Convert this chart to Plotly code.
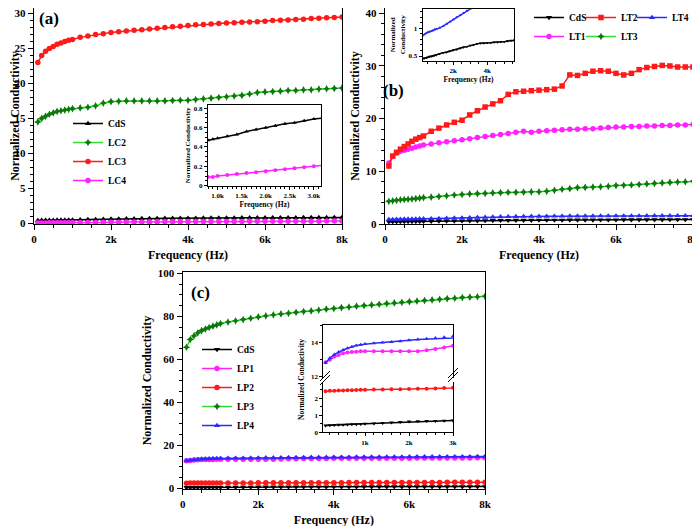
import plotly.graph_objects as go

# ---------------- data ----------------
freq = [100, 200, 300, 400, 500, 600, 700, 800, 900, 1000,
        1200, 1400, 1600, 1800, 2000, 2200, 2400, 2600, 2800, 3000,
        3200, 3400, 3600, 3800, 4000, 4200, 4400, 4600, 4800, 5000,
        5200, 5400, 5600, 5800, 6000, 6200, 6400, 6600, 6800, 7000,
        7200, 7400, 7600, 7800, 8000]

# panel (a)
a_cds = [0.40, 0.42, 0.43, 0.44, 0.45, 0.46, 0.46, 0.47, 0.48, 0.49,
         0.51, 0.53, 0.56, 0.58, 0.60, 0.62, 0.64, 0.65, 0.67, 0.69,
         0.70, 0.71, 0.72, 0.73, 0.74, 0.74, 0.75, 0.76, 0.76, 0.77,
         0.77, 0.78, 0.78, 0.79, 0.79, 0.80, 0.80, 0.81, 0.81, 0.82,
         0.82, 0.83, 0.83, 0.84, 0.84]
a_lc2 = [14.5, 15.0, 15.3, 15.6, 15.8, 16.0, 16.1, 16.2, 16.3, 16.4,
         16.5, 16.6, 16.8, 17.2, 17.4, 17.45, 17.5, 17.5, 17.5, 17.5,
         17.5, 17.5, 17.55, 17.6, 17.6, 17.7, 17.8, 17.9, 18.0, 18.1,
         18.2, 18.3, 18.5, 18.7, 18.8, 18.85, 18.9, 19.0, 19.0, 19.1,
         19.1, 19.2, 19.25, 19.3, 19.35]
a_lc3 = [23.0, 24.0, 24.6, 25.0, 25.3, 25.6, 25.8, 26.0, 26.2, 26.3,
         26.6, 26.8, 27.0, 27.1, 27.3, 27.4, 27.5, 27.6, 27.7, 27.8,
         27.9, 28.0, 28.1, 28.2, 28.3, 28.4, 28.45, 28.5, 28.6, 28.65,
         28.7, 28.75, 28.8, 28.85, 28.9, 29.0, 29.05, 29.1, 29.15, 29.2,
         29.3, 29.35, 29.4, 29.45, 29.5]
a_lc4 = [0.05, 0.06, 0.06, 0.07, 0.07, 0.08, 0.08, 0.09, 0.09, 0.10,
         0.11, 0.12, 0.13, 0.14, 0.15, 0.16, 0.17, 0.18, 0.19, 0.20,
         0.21, 0.22, 0.22, 0.23, 0.24, 0.24, 0.25, 0.25, 0.26, 0.26,
         0.27, 0.27, 0.28, 0.28, 0.29, 0.29, 0.30, 0.30, 0.30, 0.31,
         0.31, 0.31, 0.32, 0.32, 0.32]

# panel (b)
b_cds = [0.44, 0.45, 0.46, 0.47, 0.48, 0.49, 0.49, 0.50, 0.51, 0.52,
         0.54, 0.56, 0.57, 0.59, 0.61, 0.62, 0.64, 0.66, 0.67, 0.69,
         0.70, 0.72, 0.73, 0.73, 0.74, 0.74, 0.75, 0.75, 0.76, 0.76,
         0.77, 0.78, 0.79, 0.80, 0.80, 0.81, 0.81, 0.82, 0.82, 0.83,
         0.83, 0.84, 0.84, 0.85, 0.85]
b_lt1 = [11.6, 12.8, 13.5, 13.8, 14.0, 14.2, 14.4, 14.6, 14.8, 15.0,
         15.2, 15.4, 15.6, 15.8, 16.0, 16.2, 16.4, 16.6, 16.8, 17.0,
         17.2, 17.4, 17.6, 17.4, 17.6, 17.7, 17.8, 17.9, 18.0, 18.0,
         18.1, 18.1, 18.2, 18.3, 18.4, 18.4, 18.5, 18.5, 18.6, 18.6,
         18.7, 18.7, 18.8, 18.8, 18.9]
b_lt2 = [11.0, 12.9, 13.6, 14.2, 14.7, 15.2, 15.7, 16.1, 16.4, 16.7,
         17.6, 18.2, 18.8, 19.3, 19.7, 20.7, 21.5, 22.2, 22.8, 23.4,
         24.6, 25.1, 25.2, 25.3, 25.4, 25.5, 25.6, 26.2, 28.3, 28.2,
         28.6, 29.0, 29.1, 29.0, 28.6, 28.3, 28.6, 29.3, 29.7, 29.9,
         30.1, 30.0, 29.8, 29.8, 29.8]
b_lt3 = [4.3, 4.4, 4.5, 4.6, 4.65, 4.7, 4.75, 4.8, 4.9, 5.0,
         5.1, 5.2, 5.35, 5.5, 5.6, 5.7, 5.75, 5.8, 5.9, 5.95,
         6.0, 6.0, 6.05, 6.1, 6.1, 6.2, 6.4, 6.6, 6.7, 6.9,
         6.95, 7.0, 7.05, 7.15, 7.3, 7.35, 7.4, 7.5, 7.6, 7.7,
         7.8, 7.9, 7.95, 8.0, 8.1]
b_lt4 = [0.86, 0.87, 0.89, 0.91, 0.93, 0.94, 0.95, 0.96, 0.98, 0.99,
         1.01, 1.04, 1.08, 1.12, 1.16, 1.20, 1.24, 1.28, 1.32, 1.36,
         1.39, 1.42, 1.44, 1.45, 1.46, 1.47, 1.48, 1.49, 1.50, 1.50,
         1.51, 1.51, 1.52, 1.52, 1.53, 1.53, 1.54, 1.54, 1.55, 1.55,
         1.56, 1.56, 1.57, 1.57, 1.58]

# panel (c)
c_cds = [0.40, 0.42, 0.43, 0.44, 0.45, 0.46, 0.47, 0.48, 0.49, 0.50,
         0.52, 0.54, 0.57, 0.60, 0.63, 0.65, 0.66, 0.67, 0.68, 0.70,
         0.71, 0.71, 0.72, 0.72, 0.73, 0.73, 0.74, 0.74, 0.75, 0.75,
         0.76, 0.76, 0.77, 0.77, 0.78, 0.78, 0.78, 0.79, 0.79, 0.80,
         0.80, 0.80, 0.81, 0.81, 0.82]
c_lp1 = [12.85, 13.0, 13.18, 13.28, 13.37, 13.42, 13.45, 13.47, 13.49, 13.5,
         13.5, 13.5, 13.5, 13.5, 13.5, 13.5, 13.55, 13.62, 13.72, 13.82,
         13.85, 13.88, 13.9, 13.92, 13.94, 13.95, 13.96, 13.97, 13.98, 13.99,
         14.0, 14.01, 14.02, 14.03, 14.05, 14.06, 14.07, 14.08, 14.09, 14.1,
         14.12, 14.14, 14.16, 14.18, 14.2]
c_lp2 = [2.42, 2.44, 2.45, 2.46, 2.46, 2.47, 2.48, 2.49, 2.50, 2.51,
         2.52, 2.52, 2.53, 2.54, 2.55, 2.56, 2.57, 2.58, 2.60, 2.62,
         2.62, 2.63, 2.64, 2.65, 2.65, 2.66, 2.67, 2.68, 2.68, 2.69,
         2.70, 2.71, 2.71, 2.72, 2.73, 2.74, 2.75, 2.76, 2.78, 2.80,
         2.82, 2.83, 2.84, 2.85, 2.86]
c_lp3 = [65.6, 69.2, 70.9, 72.3, 73.3, 74.1, 74.8, 75.4, 76.0, 76.6,
         77.3, 77.9, 78.5, 79.1, 79.7, 80.2, 80.7, 81.1, 81.4, 81.8,
         82.2, 82.5, 82.9, 83.3, 83.6, 84.0, 84.3, 84.7, 85.0, 85.3,
         85.6, 85.9, 86.2, 86.5, 86.8, 87.1, 87.3, 87.6, 87.9, 88.2,
         88.4, 88.7, 88.9, 89.1, 89.3]
c_lp4 = [12.8, 13.1, 13.3, 13.45, 13.57, 13.67, 13.76, 13.83, 13.88, 13.92,
         13.97, 14.01, 14.04, 14.08, 14.14, 14.18, 14.23, 14.27, 14.32, 14.38,
         14.40, 14.42, 14.44, 14.46, 14.48, 14.50, 14.52, 14.53, 14.55, 14.56,
         14.58, 14.59, 14.61, 14.62, 14.64, 14.65, 14.66, 14.68, 14.69, 14.70,
         14.72, 14.73, 14.74, 14.76, 14.77]

# tick labels
main_xtickvals = [0, 2000, 4000, 6000, 8000]
main_xticktext = ["0", "2k", "4k", "6k", "8k"]
ins_a_xtickvals = [1000, 1500, 2000, 2500, 3000]
ins_a_xticktext = ["1.0k", "1.5k", "2.0k", "2.5k", "3.0k"]
ins_b_xtickvals = [2000, 4000]
ins_b_xticktext = ["2k", "4k"]
ins_c_xtickvals = [1000, 2000, 3000]
ins_c_xticktext = ["1k", "2k", "3k"]

# ---------------- styling ----------------
FONT = "Liberation Serif"
BLACK = "#000000"
RED = "#ff1a1a"
GREEN_L = "#33dd33"
GREEN_M = "#0a7a0a"
MAG = "#ff22ff"
BLUE = "#2a2aff"

W, H = 700, 526
OFF = 8  # page body margin offset of the figure in the browser window


def px_x(p):
    return max(0.0, min(1.0, (p - OFF) / W))


def px_y(p):
    return 1 - (p - OFF) / H


def dom_y(p):
    return max(0.0, min(1.0, px_y(p)))


def tfont(size):
    return dict(family=FONT, size=size, color="black", weight="bold")


def axis(domain, rng, size, dtick=None, minor=None, tickvals=None, ticktext=None,
         title=None, tsize=12, standoff=4, mirror=True, anchor=None, lw=1.4, ticklen=5):
    d = dict(domain=domain, range=rng, showline=True, linecolor="black", linewidth=lw,
             mirror=mirror, ticks="outside", ticklen=ticklen, tickwidth=1.2, tickcolor="black",
             showgrid=False, zeroline=False, tickfont=tfont(size), automargin=False,
             ticklabeloverflow="allow")
    if dtick is not None:
        d["dtick"] = dtick
    if tickvals is not None:
        d["tickmode"] = "array"
        d["tickvals"] = tickvals
        d["ticktext"] = ticktext
    if minor is not None:
        d["minor"] = dict(ticks="outside", ticklen=max(2, ticklen - 2), tickwidth=1,
                          tickcolor="black", dtick=minor, showgrid=False)
    if title:
        d["title"] = dict(text=title, font=tfont(tsize), standoff=standoff)
    if anchor:
        d["anchor"] = anchor
    return d


fig = go.Figure()


def add(x, y, name, color, lcolor, symbol, xa, ya, legend=None, size=5.5, show=True):
    tr = go.Scatter(x=x, y=y, name=name, mode="lines+markers", xaxis=xa, yaxis=ya,
                    line=dict(color=lcolor, width=1.5),
                    marker=dict(symbol=symbol, size=size, color=color, line=dict(width=0)),
                    showlegend=show)
    if legend:
        tr.legend = legend
    fig.add_trace(tr)


# panel (a)
add(freq, a_cds, "CdS", BLACK, BLACK, "triangle-up", "x", "y", "legend")
add(freq, a_lc2, "LC2", GREEN_M, GREEN_L, "star-diamond", "x", "y", "legend")
add(freq, a_lc3, "LC3", RED, RED, "circle", "x", "y", "legend")
add(freq, a_lc4, "LC4", MAG, MAG, "circle", "x", "y", "legend")
# inset (a)
add(freq, a_cds, "CdS", BLACK, BLACK, "triangle-up", "x2", "y2", show=False, size=4)
add(freq, a_lc4, "LC4", MAG, MAG, "circle", "x2", "y2", show=False, size=4)

# panel (b): legend laid out in three columns (legend2, legend4, legend5)
add(freq, b_cds, "CdS", BLACK, BLACK, "triangle-down", "x3", "y3", "legend2")
add(freq, b_lt1, "LT1", MAG, MAG, "circle", "x3", "y3", "legend2")
add(freq, b_lt2, "LT2", RED, RED, "square", "x3", "y3", "legend4")
add(freq, b_lt3, "LT3", GREEN_M, GREEN_L, "star-diamond", "x3", "y3", "legend4")
add(freq, b_lt4, "LT4", BLUE, BLUE, "triangle-up", "x3", "y3", "legend5")
# inset (b)
add(freq, b_cds, "CdS", BLACK, BLACK, "triangle-down", "x4", "y4", show=False, size=3)
add(freq, b_lt4, "LT4", BLUE, BLUE, "triangle-up", "x4", "y4", show=False, size=3)

# panel (c)
add(freq, c_cds, "CdS", BLACK, BLACK, "triangle-down", "x5", "y5", "legend3")
add(freq, c_lp1, "LP1", MAG, MAG, "circle", "x5", "y5", "legend3")
add(freq, c_lp2, "LP2", RED, RED, "circle", "x5", "y5", "legend3")
add(freq, c_lp3, "LP3", GREEN_M, GREEN_L, "star-diamond", "x5", "y5", "legend3")
add(freq, c_lp4, "LP4", BLUE, BLUE, "triangle-up", "x5", "y5", "legend3")
# inset (c) lower
add(freq, c_cds, "CdS", BLACK, BLACK, "triangle-down", "x6", "y6", show=False, size=4)
add(freq, c_lp2, "LP2", RED, RED, "circle", "x6", "y6", show=False, size=4)
# inset (c) upper
add(freq, c_lp1, "LP1", MAG, MAG, "circle", "x7", "y7", show=False, size=4)
add(freq, c_lp4, "LP4", BLUE, BLUE, "triangle-up", "x7", "y7", show=False, size=4)

layout = dict(
    width=W, height=H, margin=dict(l=0, r=0, t=0, b=0, autoexpand=False),
    paper_bgcolor="white", plot_bgcolor="white",
    font=dict(family=FONT, color="black"),
)

# panel (a)  (top edge limited by the page offset)
layout["xaxis"] = axis([px_x(34), px_x(342)], [0, 8000], 11, minor=500,
                       tickvals=main_xtickvals, ticktext=main_xticktext,
                       title="Frequency (Hz)", standoff=6, anchor="y")
layout["yaxis"] = axis([dom_y(224), dom_y(8)], [-0.1, 30.8], 11, dtick=5, minor=1,
                       title="Normalized Conductivity", standoff=3, anchor="x")
# inset (a)
layout["xaxis2"] = axis([px_x(208), px_x(321)], [800, 3150], 7, minor=100,
                        tickvals=ins_a_xtickvals, ticktext=ins_a_xticktext,
                        title="Frequency (Hz)", tsize=7.5, standoff=2, anchor="y2",
                        lw=1, ticklen=3)
layout["yaxis2"] = axis([dom_y(185.7), dom_y(105)], [0, 0.834], 7, dtick=0.2, minor=0.05,
                        title="Normalized Conductivity", tsize=7, standoff=2, anchor="x2",
                        lw=1, ticklen=3)
# panel (b)
layout["xaxis3"] = axis([px_x(385), px_x(693)], [0, 8000], 11, minor=500,
                        tickvals=main_xtickvals, ticktext=main_xticktext,
                        title="Frequency (Hz)", standoff=6, anchor="y3")
layout["yaxis3"] = axis([dom_y(224), dom_y(8)], [0, 41.0], 11, dtick=10, minor=2,
                        title="Normalized Conductivity", standoff=3, anchor="x3")
# inset (b)
layout["xaxis4"] = axis([px_x(422.7), px_x(514.3)], [200, 5590], 7, minor=500,
                        tickvals=ins_b_xtickvals, ticktext=ins_b_xticktext,
                        title="Frequency (Hz)", tsize=7.5, standoff=2, anchor="y4",
                        lw=1, ticklen=3)
layout["yaxis4"] = axis([dom_y(61), dom_y(8.5)], [0.41, 1.36], 7, dtick=0.5, minor=0.1,
                        title="Normalized<br>Conductivity", tsize=7, standoff=2, anchor="x4",
                        lw=1, ticklen=3)
# panel (c)
layout["xaxis5"] = axis([px_x(182.7), px_x(485)], [0, 8000], 11, minor=500,
                        tickvals=main_xtickvals, ticktext=main_xticktext,
                        title="Frequency (Hz)", standoff=6, anchor="y5")
layout["yaxis5"] = axis([dom_y(489), dom_y(272)], [-0.3, 100.6], 11, dtick=20, minor=5,
                        title="Normalized Conductivity", standoff=3, anchor="x5")
# inset (c) lower
layout["xaxis6"] = axis([px_x(323.3), px_x(453)], [50, 3000], 7, minor=200,
                        tickvals=ins_c_xtickvals, ticktext=ins_c_xticktext,
                        anchor="y6", mirror=False, lw=1, ticklen=3)
layout["yaxis6"] = axis([dom_y(432.3), dom_y(382)], [0, 2.96], 7, dtick=1, minor=0.5,
                        anchor="x6", lw=1, ticklen=3)
# inset (c) upper
layout["xaxis7"] = dict(domain=[px_x(323.3), px_x(453)], range=[50, 3000], matches="x6",
                        anchor="y7", side="top", showline=True, linecolor="black",
                        linewidth=1, ticks="", showticklabels=False, showgrid=False,
                        zeroline=False)
layout["yaxis7"] = axis([dom_y(378), dom_y(325)], [11.92, 15.04], 7, dtick=2, minor=1,
                        anchor="x7", lw=1, ticklen=3)

# legends
leg_common = dict(xanchor="left", yanchor="top", bgcolor="rgba(0,0,0,0)",
                  font=tfont(9.5), tracegroupgap=0)
layout["legend"] = dict(x=px_x(68), y=px_y(109), **leg_common)
layout["legend2"] = dict(x=px_x(529), y=px_y(3), **leg_common)
layout["legend4"] = dict(x=px_x(581), y=px_y(3), **leg_common)
layout["legend5"] = dict(x=px_x(632), y=px_y(3), **leg_common)
layout["legend3"] = dict(x=px_x(197), y=px_y(335), **leg_common)

# panel labels and inset (c) y title
ann = [
    dict(text="(a)", x=px_x(49), y=px_y(18)),
    dict(text="(b)", x=px_x(394), y=px_y(90)),
    dict(text="(c)", x=px_x(200), y=px_y(292)),
]
annotations = []
for a in ann:
    annotations.append(dict(text=a["text"], x=a["x"], y=a["y"], xref="paper", yref="paper",
                            showarrow=False, font=tfont(17), xanchor="center", yanchor="middle"))
annotations.append(dict(text="Normalized Conductivity", x=px_x(301), y=px_y(380),
                        xref="paper", yref="paper", showarrow=False, textangle=-90,
                        font=tfont(7.5), xanchor="center", yanchor="middle"))
layout["annotations"] = annotations

# axis break marks on inset (c)
shapes = []
for (x0, y0) in [(320, 381), (320, 385), (448, 378), (448, 382)]:
    shapes.append(dict(type="line", xref="paper", yref="paper",
                       x0=px_x(x0), y0=px_y(y0), x1=px_x(x0 + 10), y1=px_y(y0 - 10),
                       line=dict(color="black", width=1)))
layout["shapes"] = shapes

fig.update_layout(**layout)
fig.write_html("out.html")
